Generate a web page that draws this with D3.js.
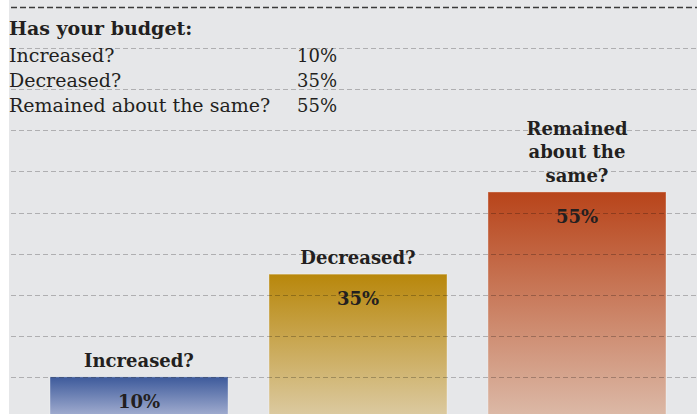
<!DOCTYPE html>
<html>
<head>
    <meta charset="utf-8">
    <title>budget chart</title>
    <script type="text/javascript" src="https://d3js.org/d3.v7.min.js"></script>
    <style>
      body { margin: 0; background: #fff; }
      text { font-family: "DejaVu Serif", serif; fill: #231f20; }
    </style>
</head>
<body>
<script type="text/javascript">

    var width = 697
    var height = 414

    // data
    var categories = ["Increased?", "Decreased?", "Remained about the same?"]
    var values = [10, 35, 55]
    var barLabels = [["Increased?"], ["Decreased?"], ["Remained", "about the", "same?"]]
    var gridTicks = [10, 20, 30, 40, 50, 60, 70, 80, 90]
    var title = "Has your budget:"

    var topColors = ["#3d5a9b", "#b8870b", "#b8441a"]
    var bottomColors = ["#a8b2d3", "#dccba3", "#dcbaa8"]

    var svg = d3.select("body").append("svg").attr("width", width).attr("height", height)

    svg.append("rect").attr("x", 9).attr("y", 0).attr("width", width - 9).attr("height", height).attr("fill", "#e6e7e9")

    var x = d3.scaleBand().domain(categories).range([50, 666]).paddingInner(0.187).paddingOuter(0)
    var y = d3.scaleLinear().domain([0, 100]).range([418, 7])

    var defs = svg.append("defs")
    categories.forEach(function(c, i) {
        var g = defs.append("linearGradient").attr("id", "grad" + i)
            .attr("x1", 0).attr("y1", 0).attr("x2", 0).attr("y2", 1)
        g.append("stop").attr("offset", "0%").attr("stop-color", topColors[i])
        g.append("stop").attr("offset", "100%").attr("stop-color", bottomColors[i])
    })

    // bars
    svg.selectAll(".bar")
        .data(values)
        .enter()
        .append("rect")
        .attr("class", "bar")
        .attr("x", function(d, i) { return x(categories[i]) })
        .attr("y", function(d) { return y(d) })
        .attr("width", x.bandwidth())
        .attr("height", function(d) { return y(0) - y(d) })
        .attr("fill", function(d, i) { return "url(#grad" + i + ")" })
        .attr("stroke", "rgba(255,255,255,0.35)")
        .attr("stroke-width", 1)

    // gridlines on top
    svg.selectAll(".grid")
        .data(gridTicks)
        .enter()
        .append("line")
        .attr("class", "grid")
        .attr("x1", 11).attr("x2", width)
        .attr("y1", function(d) { return Math.round(y(d)) + 0.5 })
        .attr("y2", function(d) { return Math.round(y(d)) + 0.5 })
        .attr("stroke", "rgba(0,0,0,0.24)")
        .attr("stroke-dasharray", "5,3")

    svg.append("line")
        .attr("x1", 11).attr("x2", width)
        .attr("y1", Math.round(y(100)) + 0.5).attr("y2", Math.round(y(100)) + 0.5)
        .attr("stroke", "#3a3a3a")
        .attr("stroke-width", 1.3)
        .attr("stroke-dasharray", "6,3")

    // table at top left
    svg.append("text").attr("x", 9).attr("y", 35)
        .style("font-size", "19px").style("font-weight", "bold").text(title)

    var rows = svg.selectAll(".row").data(categories).enter().append("g").attr("class", "row")
    rows.append("text").attr("x", 9)
        .attr("y", function(d, i) { return 62 + i * 25 })
        .style("font-size", "19px").text(function(d) { return d })
    rows.append("text").attr("x", 337).attr("text-anchor", "end")
        .attr("y", function(d, i) { return 62 + i * 25 })
        .style("font-size", "18px").text(function(d, i) { return values[i] + "%" })

    // bar labels
    var labels = svg.selectAll(".lbl").data(values).enter().append("g").attr("class", "lbl")
    labels.each(function(d, i) {
        var g = d3.select(this)
        var cx = x(categories[i]) + x.bandwidth() / 2
        var lines = barLabels[i]
        lines.forEach(function(l, j) {
            g.append("text").attr("x", cx)
                .attr("y", y(d) - 10 - (lines.length - 1 - j) * 23.5)
                .attr("text-anchor", "middle")
                .style("font-size", "18px").style("font-weight", "bold")
                .text(l)
        })
        g.append("text").attr("x", cx).attr("y", y(d) + 31)
            .attr("text-anchor", "middle")
            .style("font-size", "18px").style("font-weight", "bold")
            .text(d + "%")
    })

</script>
</body>
</html>
